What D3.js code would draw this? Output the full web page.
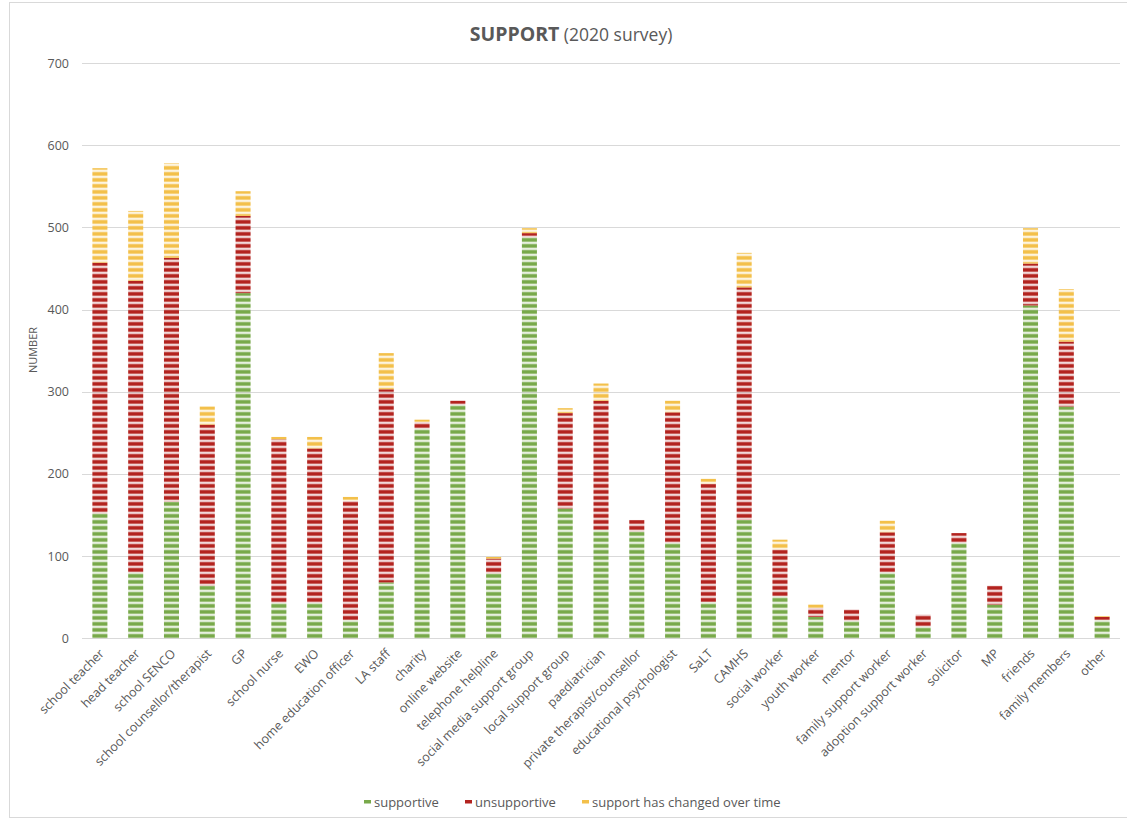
<!DOCTYPE html>
<html>
<head>
<meta charset="utf-8">
<script src="https://cdn.jsdelivr.net/npm/d3@7"></script>
<style>
  html, body { margin: 0; padding: 0; background: #fff; }
  svg { display: block; font-family: "Open Sans", Lato, sans-serif; }
</style>
</head>
<body>
<svg id="chart" width="1127" height="821"></svg>
<script>
// Survey respondents by source of support (2020 survey)
const categories = [
  "school teacher", "head teacher", "school SENCO", "school counsellor/therapist", "GP",
  "school nurse", "EWO", "home education officer", "LA staff", "charity",
  "online website", "telephone helpline", "social media support group", "local support group", "paediatrician",
  "private therapist/counsellor", "educational psychologist", "SaLT", "CAMHS", "social worker",
  "youth worker", "mentor", "family support worker", "adoption support worker", "solicitor",
  "MP", "friends", "family members", "other"
];
const supportive = [
  152, 80, 166, 64, 420,
  43, 43, 22, 68, 255,
  284, 79, 488, 158, 132,
  130, 116, 44, 144, 51,
  26, 21, 80, 14, 116,
  41, 405, 282, 22
];
const unsupportive = [
  305, 355, 297, 196, 94,
  199, 188, 145, 235, 8,
  5, 18, 5, 116, 157,
  14, 159, 144, 283, 57,
  11, 14, 49, 15, 12,
  23, 51, 79, 4
];
const changed = [
  115, 85, 115, 22, 30,
  3, 14, 5, 44, 3,
  0, 2, 6, 6, 21,
  0, 14, 6, 42, 12,
  4, 0, 14, 0, 0,
  0, 43, 64, 1
];
const seriesNames = ["supportive", "unsupportive", "support has changed over time"];
const seriesKeys = ["supportive", "unsupportive", "changed"];
const seriesColors = ["#78a94a", "#b3231f", "#f3c04a"];
const yTicks = [0, 100, 200, 300, 400, 500, 600, 700];

const rows = categories.map((c, i) => ({
  category: c, supportive: supportive[i], unsupportive: unsupportive[i], changed: changed[i]
}));

const svg = d3.select("#chart");
const textColor = "#595959";
const font = "'Open Sans', Lato, sans-serif";

// frame around the chart area
svg.append("rect")
  .attr("x", 9.5).attr("y", 2.5).attr("width", 1130).attr("height", 815)
  .attr("fill", "none").attr("stroke", "#d9d9d9").attr("stroke-width", 1);

const x = d3.scaleBand()
  .domain(categories)
  .range([82, 1120])
  .paddingInner(0.58)
  .paddingOuter(0.29);

const y = d3.scaleLinear().domain([0, 700]).range([638.3, 63]);

// horizontal stripe fills, aligned to the baseline
const defs = svg.append("defs");
seriesKeys.forEach((k, i) => {
  const p = defs.append("pattern")
    .attr("id", "stripe-" + k)
    .attr("patternUnits", "userSpaceOnUse")
    .attr("x", 0).attr("y", y(0))
    .attr("width", 8).attr("height", 6);
  p.append("rect").attr("x", 0).attr("y", 1.6).attr("width", 8).attr("height", 4)
    .attr("fill", seriesColors[i]);
});

// gridlines
svg.append("g")
  .selectAll("line")
  .data(yTicks)
  .join("line")
  .attr("x1", 82).attr("x2", 1120)
  .attr("y1", d => Math.round(y(d)) + 0.5).attr("y2", d => Math.round(y(d)) + 0.5)
  .attr("stroke", "#d9d9d9").attr("stroke-width", 1.2);

// y axis labels
const yAxis = svg.append("g")
  .attr("transform", "translate(82,0)")
  .call(d3.axisLeft(y).tickValues(yTicks).tickSize(0).tickPadding(13));
yAxis.select(".domain").remove();
yAxis.selectAll("text")
  .attr("fill", textColor).attr("font-size", 12.5)
  .attr("font-family", font);

// stacked bars
const stack = d3.stack().keys(seriesKeys);
const layers = stack(rows);
svg.append("g")
  .selectAll("g")
  .data(layers)
  .join("g")
  .attr("fill", d => "url(#stripe-" + d.key + ")")
  .selectAll("rect")
  .data(d => d)
  .join("rect")
  .attr("x", d => x(d.data.category))
  .attr("width", x.bandwidth())
  .attr("y", d => y(d[1]))
  .attr("height", d => Math.max(0, y(d[0]) - y(d[1])));

// category labels, rotated
const xAxis = svg.append("g")
  .attr("transform", "translate(0," + y(0) + ")")
  .call(d3.axisBottom(x).tickSize(0).tickPadding(0));
xAxis.select(".domain").remove();
xAxis.selectAll(".tick text")
  .attr("fill", textColor)
  .attr("font-size", 12.5)
  .attr("font-family", font)
  .attr("text-anchor", "end")
  .attr("dy", 0)
  .attr("transform", "translate(5,16) rotate(-45)");

// y axis title
svg.append("text")
  .attr("transform", "translate(37,350) rotate(-90)")
  .attr("text-anchor", "middle")
  .attr("fill", textColor)
  .attr("font-size", 11)
  .text("NUMBER");

// chart title
const title = svg.append("text")
  .attr("x", 571).attr("y", 41)
  .attr("text-anchor", "middle")
  .attr("fill", textColor)
  .attr("font-size", 19.5);
title.append("tspan").attr("font-weight", "bold").text("SUPPORT");
title.append("tspan").attr("font-size", 17.5).text(" (2020 survey)");

// legend
const legendX = [364, 465, 582];
const legend = svg.append("g").attr("transform", "translate(0,802)");
seriesNames.forEach((name, i) => {
  legend.append("rect")
    .attr("x", legendX[i]).attr("y", -2).attr("width", 7).attr("height", 3.5)
    .attr("fill", seriesColors[i]);
  legend.append("text")
    .attr("x", legendX[i] + 10).attr("y", 4.5)
    .attr("fill", textColor).attr("font-size", 13)
    .text(name);
});
</script>
</body>
</html>
